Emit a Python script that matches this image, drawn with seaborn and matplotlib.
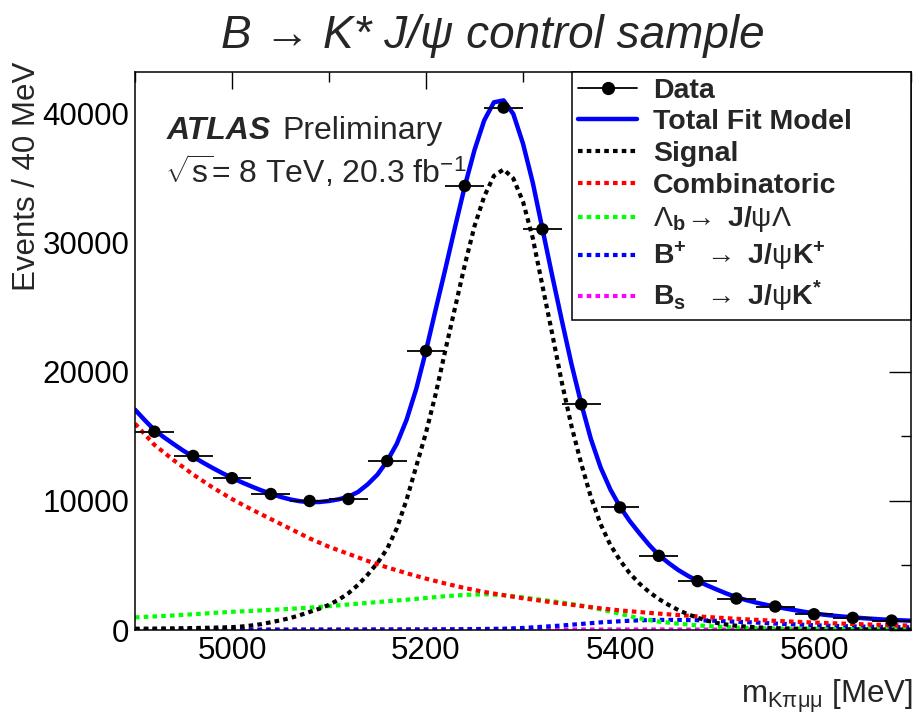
import numpy as np
import matplotlib
matplotlib.use("Agg")
import matplotlib.pyplot as plt
import seaborn as sns
from matplotlib.lines import Line2D
from matplotlib.ticker import MultipleLocator

# ---- binned data (40 MeV bins) ----
bin_centers = [4920, 4960, 5000, 5040, 5080, 5120, 5160, 5200, 5240, 5280,
               5320, 5360, 5400, 5440, 5480, 5520, 5560, 5600, 5640, 5680]
events = [15370, 13490, 11770, 10540, 10000, 10150, 13100, 21630, 34420, 40490,
          31060, 17500, 9500, 5750, 3790, 2440, 1820, 1220, 940, 730]
bin_half_width = 20

# ---- fit components on a 10 MeV grid ----
mass_fine = np.arange(4900, 5701, 10)
total_fit = [17080, 16270, 15500, 14930, 14400, 13890, 13430, 12980, 12560, 12160,
             11790, 11450, 11130, 10830, 10560, 10320, 10120, 9980, 9910, 9920,
             10000, 10130, 10330, 10700, 11300, 12050, 13100, 14450, 16300, 18700,
             21650, 24850, 28000, 31250, 34400, 37200, 39500, 40900, 41050, 40000,
             37700, 34700, 31100, 27500, 24000, 20600, 17550, 14800, 12600, 10900,
             9550, 8450, 7500, 6600, 5800, 5200, 4650, 4200, 3800, 3450,
             3130, 2820, 2540, 2320, 2130, 1960, 1810, 1670, 1540, 1410,
             1290, 1190, 1110, 1040, 980, 920, 870, 820, 780, 750, 720]
signal = [100, 105, 110, 120, 130, 140, 150, 165, 180, 200,
          220, 270, 350, 450, 600, 750, 930, 1150, 1400, 1650,
          1950, 2350, 2850, 3500, 4300, 5200, 6300, 7900, 10100, 12700,
          15300, 18300, 21700, 25000, 28300, 31300, 33600, 35200, 35700, 35000,
          33200, 30400, 26700, 23000, 19200, 15800, 12900, 10300, 8200, 6600,
          5400, 4400, 3600, 2950, 2400, 1950, 1550, 1220, 950, 720,
          540, 420, 330, 260, 210, 170, 140, 120, 100, 90,
          80, 70, 60, 55, 50, 45, 40, 35, 30, 28, 25]

# ---- background components on a 20 MeV grid ----
mass_coarse = np.arange(4900, 5701, 20)
combinatoric = [16000, 14350, 13150, 12050, 11050, 10150, 9350, 8600, 7850, 7100,
                6450, 5900, 5350, 4850, 4400, 3980, 3600, 3250, 2950, 2700,
                2460, 2250, 2050, 1860, 1680, 1520, 1390, 1270, 1160, 1060,
                960, 870, 790, 710, 640, 580, 520, 470, 420, 380, 340]
lambda_b = [980, 1050, 1130, 1220, 1320, 1410, 1480, 1560, 1640, 1730,
            1850, 1980, 2100, 2230, 2350, 2480, 2620, 2720, 2770, 2700,
            2530, 2330, 2130, 1900, 1600, 1260, 900, 650, 490, 360,
            260, 190, 150, 120, 100, 90, 80, 70, 60, 55, 50]
b_plus = [15, 15, 15, 20, 20, 20, 20, 25, 25, 30,
          30, 30, 35, 35, 40, 40, 50, 60, 80, 100,
          160, 250, 350, 470, 590, 680, 750, 780, 780, 760,
          710, 640, 580, 500, 440, 370, 320, 280, 250, 230, 210]
b_s = [30, 30, 30, 30, 30, 30, 30, 30, 30, 30,
       30, 30, 35, 35, 35, 35, 40, 40, 40, 40,
       40, 40, 40, 40, 40, 40, 40, 40, 35, 35,
       35, 35, 35, 30, 30, 30, 30, 30, 30, 30, 30]

legend_labels = ["Data", "Total Fit Model", "Signal", "Combinatoric",
                 r"$\Lambda_{\mathbf{b}}\!\rightarrow\ \mathbf{J/}\mathrm{\psi}\Lambda$",
                 r"$\mathbf{B}^{\mathbf{+}}\ \ \rightarrow\ \mathbf{J/}\mathrm{\psi}\mathbf{K}^{\mathbf{+}}$",
                 r"$\mathbf{B}_{\mathbf{s}}\ \ \rightarrow\ \mathbf{J/}\mathrm{\psi}\mathbf{K}^{\mathbf{*}}$"]

sns.set_theme(style="white")
plt.rcParams["font.family"] = ["Liberation Sans", "DejaVu Sans"]
plt.rcParams["mathtext.fontset"] = "custom"
plt.rcParams["mathtext.rm"] = "Liberation Sans"
plt.rcParams["mathtext.it"] = "Liberation Sans:italic"
plt.rcParams["mathtext.bf"] = "Liberation Sans:bold"
plt.rcParams["mathtext.sf"] = "Liberation Sans"

W, H = 917, 714
fig = plt.figure(figsize=(W / 100, H / 100), dpi=100)
ax = fig.add_axes([135 / W, 1 - 630 / H, (911 - 135) / W, (630 - 72) / H])
ax.set_facecolor("white")

dot = (0, (1.1, 1.0))
lw_c = 3.0

sns.lineplot(x=mass_coarse, y=b_s, ax=ax, color="#ff00ff", lw=lw_c, linestyle=dot,
             errorbar=None, estimator=None, sort=False, legend=False)
sns.lineplot(x=mass_coarse, y=b_plus, ax=ax, color="#0000ff", lw=lw_c, linestyle=dot,
             errorbar=None, estimator=None, sort=False, legend=False)
sns.lineplot(x=mass_coarse, y=lambda_b, ax=ax, color="#00ff00", lw=lw_c, linestyle=dot,
             errorbar=None, estimator=None, sort=False, legend=False)
sns.lineplot(x=mass_coarse, y=combinatoric, ax=ax, color="#ff0000", lw=lw_c, linestyle=dot,
             errorbar=None, estimator=None, sort=False, legend=False)
sns.lineplot(x=mass_fine, y=signal, ax=ax, color="black", lw=lw_c, linestyle=dot,
             errorbar=None, estimator=None, sort=False, legend=False)
sns.lineplot(x=mass_fine, y=total_fit, ax=ax, color="#0000ff", lw=3.2,
             errorbar=None, estimator=None, sort=False, legend=False)

ax.errorbar(bin_centers, events, xerr=bin_half_width, fmt="none",
            ecolor="black", elinewidth=1.3, capsize=0, zorder=5)
sns.scatterplot(x=bin_centers, y=events, ax=ax, color="black", s=80,
                edgecolor="none", zorder=6, legend=False)

ax.set_xlim(4900, 5700)
ax.set_ylim(0, 43250)
ax.xaxis.set_major_locator(MultipleLocator(200))
ax.xaxis.set_minor_locator(MultipleLocator(100))
ax.yaxis.set_major_locator(MultipleLocator(10000))
ax.yaxis.set_minor_locator(MultipleLocator(5000))
ax.set_xticks([5000, 5200, 5400, 5600])
ax.set_yticks([0, 10000, 20000, 30000, 40000])
ax.tick_params(axis="both", which="both", direction="in", colors="black",
               top=True, right=True, labelsize=22.5, width=1.0)
ax.tick_params(axis="x", which="major", length=12.5, pad=4)
ax.tick_params(axis="x", which="minor", length=7)
ax.tick_params(axis="y", which="major", length=15.5, pad=4)
ax.tick_params(axis="y", which="minor", length=7.5)
for sp in ax.spines.values():
    sp.set_color("black")
    sp.set_linewidth(1.1)
ax.set_xlabel("")
ax.set_ylabel("")

# legend box spanning the upper-right corner of the frame
handles = [
    Line2D([], [], color="black", lw=1.3, marker="o", markersize=8.5),
    Line2D([], [], color="#0000ff", lw=3.2),
    Line2D([], [], color="black", lw=lw_c, linestyle=dot),
    Line2D([], [], color="#ff0000", lw=lw_c, linestyle=dot),
    Line2D([], [], color="#00ff00", lw=lw_c, linestyle=dot),
    Line2D([], [], color="#0000ff", lw=lw_c, linestyle=dot),
    Line2D([], [], color="#ff00ff", lw=lw_c, linestyle=dot),
]
leg_x0 = (572 - 135) / (911 - 135)
leg = ax.legend(handles, legend_labels, loc="upper left",
                bbox_to_anchor=(leg_x0, 0.0, 1.0 - leg_x0, 1.0), mode="expand",
                borderaxespad=0, frameon=True, fancybox=False, edgecolor="black",
                framealpha=1, prop={"weight": "bold", "size": 20.5},
                handlelength=2.1, handletextpad=0.55, labelspacing=0.2,
                borderpad=0.2)
leg.get_frame().set_linewidth(1.1)

# annotations
fig.text(167 / W, 1 - 139 / H, "ATLAS", fontsize=23, fontweight="bold",
         fontstyle="italic", ha="left", va="baseline")
fig.text(282 / W, 1 - 139 / H, "Preliminary", fontsize=23, ha="left", va="baseline")
fig.text(165 / W, 1 - 183 / H, r"$\sqrt{\mathrm{s}}$= 8 TeV, 20.3 fb$^{\mathrm{-1}}$",
         fontsize=23, ha="left", va="baseline")

fig.text(493 / W, 1 - 48 / H, "B \u2192 K* J/\u03c8 control sample", fontsize=33,
         fontstyle="italic", ha="center", va="baseline")

fig.text(27 / W, 1 - 62 / H, "Events / 40 MeV", fontsize=22.5, rotation=90,
         ha="center", va="top")
fig.text(913 / W, 1 - 703 / H, r"m$_{\mathrm{K\pi\mu\mu}}$ [MeV]", fontsize=22.5,
         ha="right", va="baseline")

fig.savefig("out.png", dpi=100, facecolor="white")
